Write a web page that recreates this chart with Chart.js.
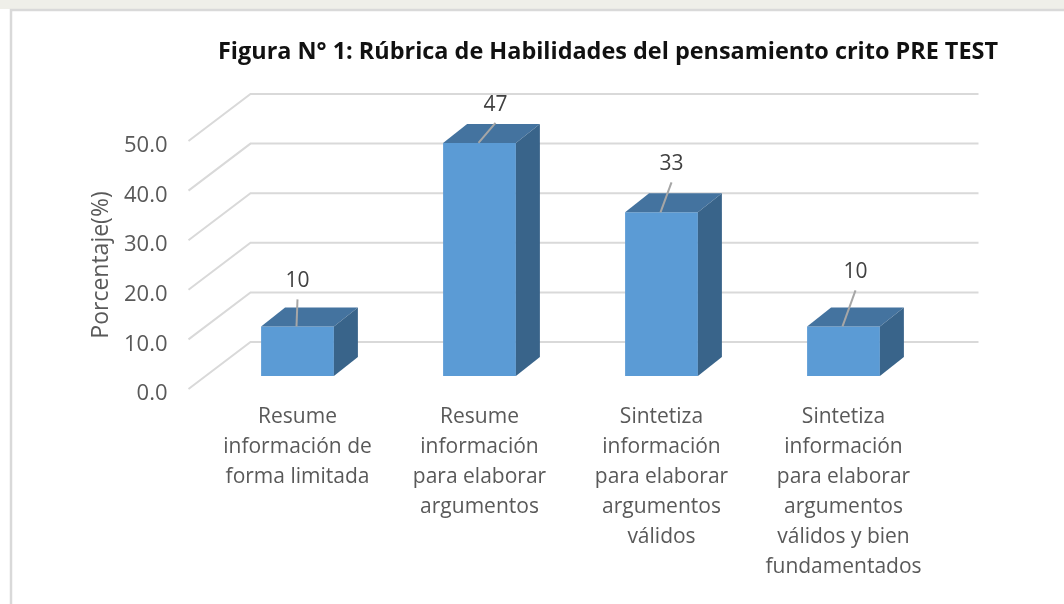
<!DOCTYPE html>
<html>
<head>
<meta charset="utf-8">
<script src="https://cdn.jsdelivr.net/npm/chart.js@4"></script>
<style>
  body { margin: 0; background: #fff; }
  canvas { display: block; }
</style>
</head>
<body>
<canvas id="rubrica-chart" width="1064" height="604"></canvas>
<script>
// chart data
const categories = [
  ["Resume", "información de", "forma limitada"],
  ["Resume", "información", "para elaborar", "argumentos"],
  ["Sintetiza", "información", "para elaborar", "argumentos", "válidos"],
  ["Sintetiza", "información", "para elaborar", "argumentos", "válidos y bien", "fundamentados"],
]
const percentages = [10, 47, 33, 10]
const yTicks = [0, 10, 20, 30, 40, 50]
const chartTitle = "Figura N° 1: Rúbrica de Habilidades del pensamiento crito PRE TEST"
const yTitle = "Porcentaje(%)"

// 3D look
const depth = { dx: 24, dy: -19 }
const wall = { dx: 44, dy: -34, frontDx: -18, frontDy: 13 }
const labelDx = [0, 16, 10, 12]
const labelDy = [-45, -38, -48, -54]

const rubricaCanvas = document.getElementById("rubrica-chart")

// frame, back wall grid, 3D faces, data labels, titles
const bars3d = {
  id: "bars3d",
  beforeDraw(chart) {
    const ctx = chart.ctx
    ctx.save()
    ctx.fillStyle = "#efefe9"
    ctx.fillRect(0, 0, chart.width, 9)
    ctx.strokeStyle = "#d9d9d9"
    ctx.lineWidth = 2.5
    ctx.beginPath()
    ctx.moveTo(11, chart.height)
    ctx.lineTo(11, 10)
    ctx.lineTo(chart.width, 10)
    ctx.stroke()
    ctx.restore()
  },
  beforeDatasetsDraw(chart) {
    const { ctx, chartArea } = chart
    const y = chart.scales.y
    ctx.save()
    ctx.strokeStyle = "#d9d9d9"
    ctx.lineWidth = 2
    yTicks.forEach((v) => {
      const py = y.getPixelForValue(v)
      ctx.beginPath()
      ctx.moveTo(chartArea.left + wall.frontDx, py + wall.frontDy)
      ctx.lineTo(chartArea.left + wall.dx, py + wall.dy)
      ctx.lineTo(chartArea.right + wall.dx, py + wall.dy)
      ctx.stroke()
    })
    ctx.restore()
  },
  afterDatasetsDraw(chart) {
    const ctx = chart.ctx
    ctx.save()
    chart.getDatasetMeta(0).data.forEach((bar) => {
      const l = bar.x - bar.width / 2
      const r = bar.x + bar.width / 2
      // top face
      ctx.fillStyle = "#44739f"
      ctx.beginPath()
      ctx.moveTo(l, bar.y)
      ctx.lineTo(l + depth.dx, bar.y + depth.dy)
      ctx.lineTo(r + depth.dx, bar.y + depth.dy)
      ctx.lineTo(r, bar.y)
      ctx.closePath()
      ctx.fill()
      // side face
      ctx.fillStyle = "#39648a"
      ctx.beginPath()
      ctx.moveTo(r, bar.y)
      ctx.lineTo(r + depth.dx, bar.y + depth.dy)
      ctx.lineTo(r + depth.dx, bar.base + depth.dy)
      ctx.lineTo(r, bar.base)
      ctx.closePath()
      ctx.fill()
    })
    ctx.restore()
  },
  afterDraw(chart) {
    const { ctx, chartArea } = chart
    ctx.save()
    chart.getDatasetMeta(0).data.forEach((bar, i) => {
      const lx = bar.x + labelDx[i]
      const ly = bar.y + labelDy[i]
      ctx.strokeStyle = "#a6a6a6"
      ctx.lineWidth = 2
      ctx.beginPath()
      ctx.moveTo(lx, ly + 18)
      ctx.lineTo(bar.x - 1, bar.y)
      ctx.stroke()
      ctx.fillStyle = "#404040"
      ctx.font = "21px 'Open Sans'"
      ctx.textAlign = "center"
      ctx.textBaseline = "middle"
      ctx.fillText(String(percentages[i]), lx, ly)
    })
    ctx.fillStyle = "#111"
    ctx.font = "bold 23.5px 'Open Sans'"
    ctx.textAlign = "center"
    ctx.textBaseline = "middle"
    ctx.fillText(chartTitle, 608, 52, 780)

    // y axis title
    ctx.translate(101, (chartArea.top + chartArea.bottom) / 2 + 13)
    ctx.rotate(-Math.PI / 2)
    ctx.fillStyle = "#595959"
    ctx.font = "23px 'Open Sans'"
    ctx.fillText(yTitle, 0, 0)
    ctx.restore()
  },
}

const rubricaData = {
  labels: categories,
  datasets: [
    {
      data: percentages,
      backgroundColor: "#5b9bd5",
      borderWidth: 0,
      barPercentage: 0.4,
      categoryPercentage: 1.0,
    },
  ],
}

const rubricaOptions = {
  responsive: false,
  animation: false,
  layout: {
    padding: { left: 85.5, right: 129.5, top: 128, bottom: 0 },
  },
  scales: {
    x: {
      grid: { display: false, drawTicks: false },
      border: { display: false },
      ticks: {
        padding: 26,
        color: "#595959",
        maxRotation: 0,
        autoSkip: false,
        font: { family: "'Open Sans'", size: 21, lineHeight: 30 / 21 },
      },
      afterFit(scale) {
        scale.height = 228
      },
    },
    y: {
      min: 0,
      max: 50,
      grid: { display: false, drawTicks: false },
      border: { display: false },
      ticks: {
        stepSize: 10,
        padding: 39,
        labelOffset: 18,
        color: "#595959",
        font: { family: "'Open Sans'", size: 22 },
        callback: (v) => v.toFixed(1),
      },
      afterFit(scale) {
        scale.width = 121
      },
    },
  },
  plugins: {
    legend: { display: false },
    tooltip: { enabled: false },
  },
}

let rubricaChart = new Chart(rubricaCanvas, {
  type: "bar",
  data: rubricaData,
  options: rubricaOptions,
  plugins: [bars3d],
})
</script>
</body>
</html>
